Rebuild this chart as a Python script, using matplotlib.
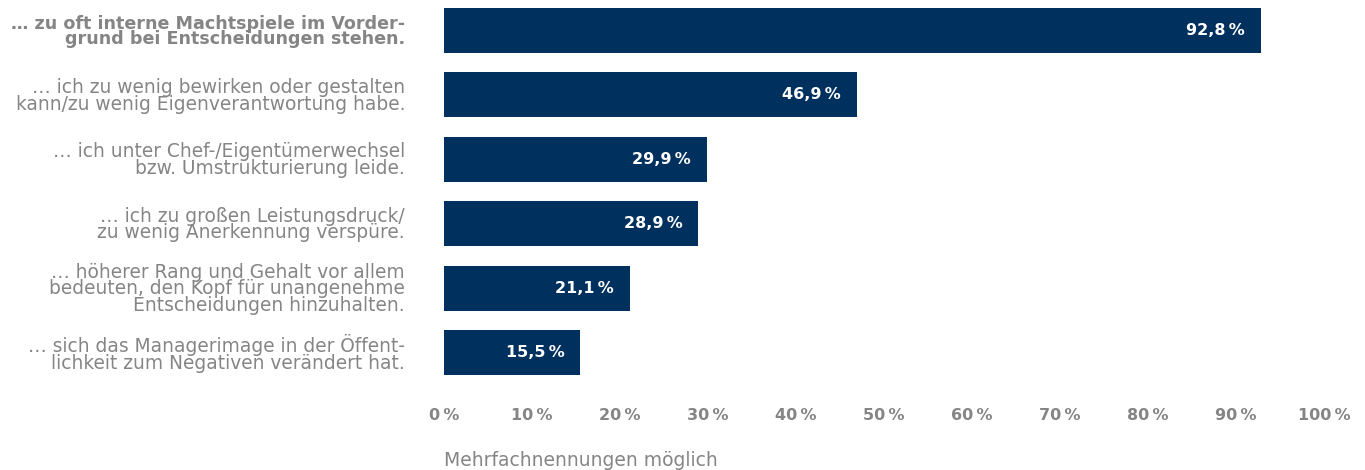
import matplotlib
matplotlib.use("Agg")
from matplotlib import pyplot as plt

# answers (top to bottom) and their shares in percent
reasons = [
    "… zu oft interne Machtspiele im Vorder-\ngrund bei Entscheidungen stehen.",
    "… ich zu wenig bewirken oder gestalten\nkann/zu wenig Eigenverantwortung habe.",
    "… ich unter Chef-/Eigentümerwechsel\nbzw. Umstrukturierung leide.",
    "… ich zu großen Leistungsdruck/\nzu wenig Anerkennung verspüre.",
    "… höherer Rang und Gehalt vor allem\nbedeuten, den Kopf für unangenehme\nEntscheidungen hinzuhalten.",
    "… sich das Managerimage in der Öffent-\nlichkeit zum Negativen verändert hat.",
]
shares = [92.8, 46.9, 29.9, 28.9, 21.1, 15.5]
ticks = [0, 10, 20, 30, 40, 50, 60, 70, 80, 90, 100]

navy = "#00305e"
grey = "#858585"

plt.rcParams["font.family"] = ["DejaVu Sans"]

fig = plt.figure(figsize=(13.65, 4.7), dpi=100)
ax = fig.add_axes([444 / 1365, (470 - 384.7) / 470, 880 / 1365, 386.4 / 470])

ypos = list(range(len(shares)))
ax.barh(ypos, shares, height=0.7, color=navy)
ax.set_xlim(0, 100)
ax.set_ylim(5.5, -0.5)

# value labels inside the bars
for y, v in zip(ypos, shares):
    ax.annotate(f"{v:.1f}".replace(".", ",") + "\u2009%", (v, y),
                xytext=(-16, 0), textcoords="offset pixels",
                ha="right", va="center", color="white",
                fontsize=11.5, fontweight="bold")

ax.set_yticks(ypos)
ax.set_yticklabels(reasons, fontsize=13.4, color=grey, linespacing=0.84)
first = ax.get_yticklabels()[0]
first.set_fontweight("bold")
first.set_fontsize(12.6)
ax.tick_params(axis="y", length=0, pad=28)

ax.set_xticks(ticks)
ax.set_xticklabels([f"{t}\u2009%" for t in ticks], fontsize=11.5,
                   fontweight="bold", color=grey)
ax.tick_params(axis="x", length=0, pad=17)

for s in ax.spines.values():
    s.set_visible(False)

fig.text(444 / 1365, 1 - 460 / 470, "Mehrfachnennungen möglich",
         ha="left", va="center", fontsize=13.5, color=grey)

fig.savefig("out.png", dpi=100)
